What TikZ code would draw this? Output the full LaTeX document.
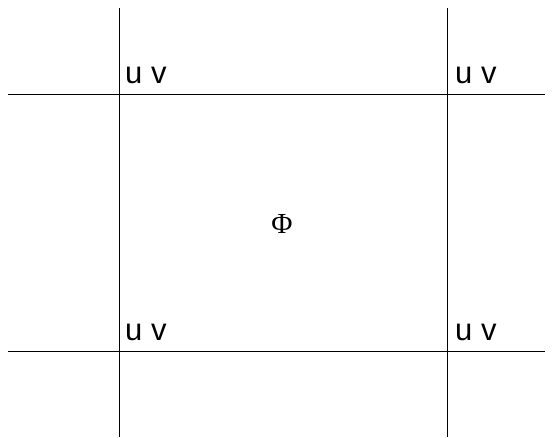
\documentclass[tikz,border=0pt]{standalone}
\usepackage{fontspec}
\setmainfont{Liberation Serif}
\setsansfont{Liberation Sans}
\begin{document}
\begin{tikzpicture}[x=1pt,y=-1pt,
  ln/.style={draw=black,line width=1pt},
  lbl/.style={font=\sffamily\fontsize{31}{34}\selectfont,anchor=base west,inner sep=0pt},
  phi/.style={font=\rmfamily\fontsize{29}{32}\selectfont,inner sep=0pt}]
\useasboundingbox (0,0) rectangle (552,438);
\coordinate (v1t) at (119,8);
\coordinate (v1b) at (119,437);
\coordinate (v2t) at (447,8);
\coordinate (v2b) at (447,437);
\coordinate (h1l) at (8,95);
\coordinate (h1r) at (545,95);
\coordinate (h2l) at (8,352);
\coordinate (h2r) at (545,352);
\draw[ln] (v1t) -- (v1b);
\draw[ln] (v2t) -- (v2b);
\draw[ln] (h1l) -- (h1r);
\draw[ln] (h2l) -- (h2r);
\node[lbl] (a) at (125,84) {u v};
\node[lbl] (b) at (455,84) {u v};
\node[lbl] (c) at (125,341) {u v};
\node[lbl] (d) at (455,341) {u v};
\node[phi] (p) at (282,224) {Φ};
\end{tikzpicture}
\end{document}
